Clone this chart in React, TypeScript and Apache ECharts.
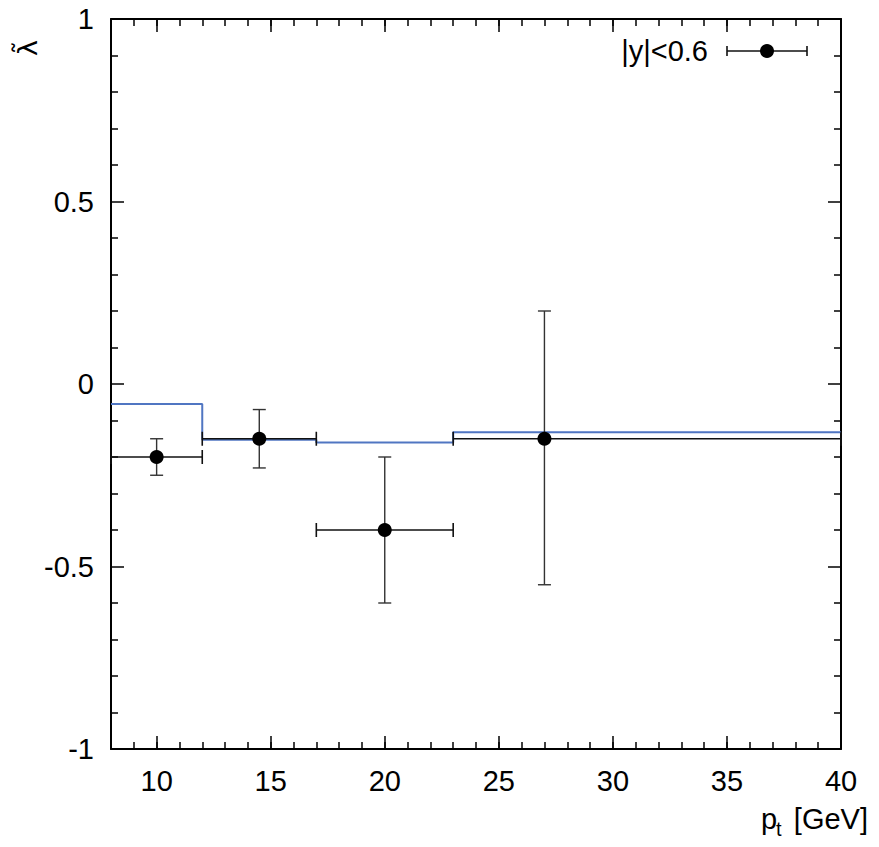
import React, { useEffect, useRef } from "react";
import * as echarts from "echarts";

// ---- data ----
const pointX = [10, 14.5, 20, 27];
const pointY = [-0.2, -0.15, -0.4, -0.15];
const xLow = [8, 12, 17, 23];
const xHigh = [12, 17, 23, 40];
const yLow = [-0.25, -0.23, -0.6, -0.55];
const yHigh = [-0.15, -0.07, -0.2, 0.2];
const stepEdges = [8, 12, 17, 23, 40];
const stepValues = [-0.055, -0.153, -0.16, -0.132];
const xTickValues = [10, 15, 20, 25, 30, 35, 40];
const legendLabel = "|y|<0.6";
const xName = ["p", "t", "[GeV]"];
const yName = "\u03BB\u0303";

const FONT = "'Liberation Sans', Arial, sans-serif";
const FS = 29;

export default function App() {
  const ref = useRef<HTMLDivElement>(null);
  useEffect(() => {
    if (!ref.current) return;
    const chart = echarts.init(ref.current, null, { renderer: "svg" });

    const stepData = stepEdges.map((e, i) => [e, stepValues[Math.min(i, stepValues.length - 1)]]);
    const errData = pointX.map((x, i) => [x, pointY[i], xLow[i], xHigh[i], yLow[i], yHigh[i]]);
    const scatterData = pointX.map((x, i) => [x, pointY[i]]);

    const lineCol = "#000";
    const axisLine = { show: true, onZero: false, lineStyle: { color: "#000", width: 2 } };
    const majorX = (pos: string, labels: boolean) => ({
      type: "value",
      position: pos,
      min: 8,
      max: 40,
      axisLine,
      axisTick: { show: true, inside: true, length: 13, customValues: xTickValues, lineStyle: { color: lineCol, width: 1.5 } },
      axisLabel: labels
        ? { show: true, customValues: xTickValues, fontSize: FS, fontFamily: FONT, color: "#000", margin: 17 }
        : { show: false },
      splitLine: { show: false },
    });
    const minorX = (pos: string) => ({
      type: "value",
      position: pos,
      min: 8,
      max: 40,
      interval: 1,
      axisLine: { show: false, onZero: false },
      axisTick: { show: true, inside: true, length: 7, lineStyle: { color: lineCol, width: 1.5 } },
      axisLabel: { show: false },
      splitLine: { show: false },
    });
    const yAx = (pos: string, labels: boolean) => ({
      type: "value",
      position: pos,
      min: -1,
      max: 1,
      interval: 0.5,
      axisLine,
      axisTick: { show: true, inside: true, length: 13, lineStyle: { color: lineCol, width: 1.5 } },
      minorTick: { show: true, splitNumber: 5, length: 7, lineStyle: { color: lineCol, width: 1.5 } },
      axisLabel: labels
        ? { show: true, fontSize: FS, fontFamily: FONT, color: "#000", margin: 17 }
        : { show: false },
      splitLine: { show: false },
      minorSplitLine: { show: false },
    });

    chart.setOption({
      animation: false,
      backgroundColor: "#fff",
      grid: { left: 111, right: 38, top: 19, bottom: 98, containLabel: false },
      xAxis: [majorX("bottom", true), minorX("bottom"), majorX("top", false), minorX("top")],
      yAxis: [yAx("left", true), yAx("right", false)],
      series: [
        {
          type: "line",
          step: "end",
          data: stepData,
          xAxisIndex: 0,
          yAxisIndex: 0,
          showSymbol: false,
          symbol: "none",
          lineStyle: { color: "#5076c2", width: 2 },
          z: 2,
        },
        {
          type: "custom",
          xAxisIndex: 0,
          yAxisIndex: 0,
          data: errData,
          z: 3,
          renderItem: (params: any, api: any) => {
            const x = api.value(0), y = api.value(1);
            const pl = api.coord([api.value(2), y]);
            const pr = api.coord([api.value(3), y]);
            const pb = api.coord([x, api.value(4)]);
            const pt = api.coord([x, api.value(5)]);
            const st = { stroke: "#111", lineWidth: 1.6 };
            const sv = { stroke: "#333", lineWidth: 1.4 };
            const cap = 7, capW = 6.5;
            return {
              type: "group",
              children: [
                { type: "line", shape: { x1: pl[0], y1: pl[1], x2: pr[0], y2: pr[1] }, style: st },
                { type: "line", shape: { x1: pl[0], y1: pl[1] - cap, x2: pl[0], y2: pl[1] + cap }, style: st },
                { type: "line", shape: { x1: pr[0], y1: pr[1] - cap, x2: pr[0], y2: pr[1] + cap }, style: st },
                { type: "line", shape: { x1: pb[0], y1: pb[1], x2: pt[0], y2: pt[1] }, style: sv },
                { type: "line", shape: { x1: pb[0] - capW, y1: pb[1], x2: pb[0] + capW, y2: pb[1] }, style: sv },
                { type: "line", shape: { x1: pt[0] - capW, y1: pt[1], x2: pt[0] + capW, y2: pt[1] }, style: sv },
              ],
            };
          },
        },
        {
          type: "scatter",
          xAxisIndex: 0,
          yAxisIndex: 0,
          data: scatterData,
          symbol: "circle",
          symbolSize: 14,
          itemStyle: { color: "#000", opacity: 1 },
          z: 4,
        },
      ],
      graphic: [
        {
          type: "text",
          x: 708,
          y: 51,
          style: { text: legendLabel, font: `${FS}px ${FONT}`, fill: "#000", align: "right", verticalAlign: "middle" },
        },
        { type: "line", shape: { x1: 727, y1: 51, x2: 807, y2: 51 }, style: { stroke: "#111", lineWidth: 1.6 } },
        { type: "line", shape: { x1: 727, y1: 46, x2: 727, y2: 56 }, style: { stroke: "#111", lineWidth: 1.6 } },
        { type: "line", shape: { x1: 807, y1: 46, x2: 807, y2: 56 }, style: { stroke: "#111", lineWidth: 1.6 } },
        { type: "circle", shape: { cx: 767, cy: 51, r: 7 }, style: { fill: "#000" } },
        {
          type: "text",
          x: 27,
          y: 48,
          rotation: Math.PI / 2,
          style: { text: yName, font: `27px 'DejaVu Sans', sans-serif`, fill: "#000", align: "center", verticalAlign: "middle" },
        },
        {
          type: "text",
          x: 761,
          y: 819,
          style: { text: xName[0], font: `${FS}px ${FONT}`, fill: "#000", align: "left", verticalAlign: "middle" },
        },
        {
          type: "text",
          x: 776,
          y: 829,
          style: { text: xName[1], font: `20px ${FONT}`, fill: "#000", align: "left", verticalAlign: "middle" },
        },
        {
          type: "text",
          x: 868,
          y: 819,
          style: { text: xName[2], font: `${FS}px ${FONT}`, fill: "#000", align: "right", verticalAlign: "middle" },
        },
      ],
    });
    return () => chart.dispose();
  }, []);
  return <div ref={ref} style={{ position: "absolute", left: 0, top: 0, width: 879, height: 847 }} />;
}
